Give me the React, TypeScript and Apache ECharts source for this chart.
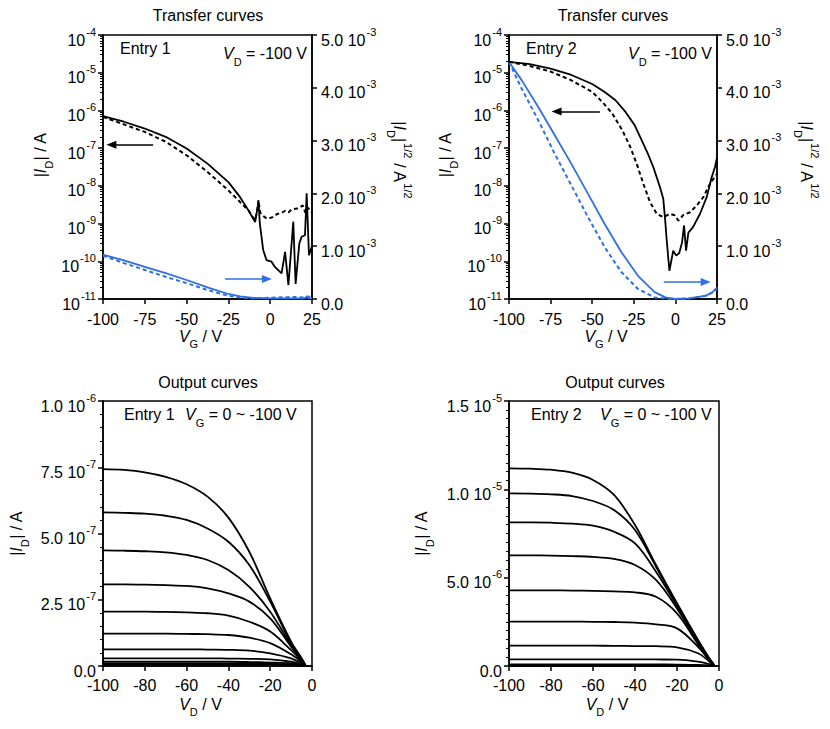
import React, { useEffect, useRef } from 'react';
import * as echarts from 'echarts';

const FF = '"Liberation Sans", Arial, Helvetica, sans-serif';
const BLACK = '#000000';
const BLUE = '#2f6fe4';

// ---------- Transfer curves, Entry 1 (V_D = -100 V) ----------
// black: log10(|I_D| / A), left axis
const t1FwdVg = [-100, -87.5, -75, -62.5, -50, -37.5, -25, -18, -13, -9, -7.5, -7, -6.2, -4.2, -2.2, 0.8, 2.8, 6.8, 8.9, 10.9, 13.8, 15.2, 17.4, 18.8, 20.8, 21.8, 23.2, 24.8];
const t1FwdLogId = [-6.15, -6.3, -6.48, -6.7, -7.01, -7.41, -7.9, -8.3, -8.65, -8.96, -8.55, -8.42, -9.0, -9.7, -9.97, -10.01, -10.15, -10.32, -9.75, -10.63, -8.95, -10.6, -9.53, -9.35, -9.31, -8.2, -9.84, -9.62];
const t1RevVg = [-100, -87.5, -75, -62.5, -50, -37.5, -25, -18, -13, -11, -9, -7.5, -7, -6, -5, -2, 1, 4, 7, 9, 11, 13, 16, 18, 19.5, 21, 22.5, 25];
const t1RevLogId = [-6.17, -6.37, -6.57, -6.83, -7.19, -7.63, -8.12, -8.43, -8.65, -8.8, -8.9, -8.6, -8.38, -8.7, -8.77, -8.87, -8.84, -8.75, -8.71, -8.66, -8.7, -8.62, -8.6, -8.56, -8.52, -8.71, -8.58, -8.71];
// blue: |I_D|^1/2 (A^1/2), right axis
const t1FwdSqrtVg = [-100, -87.5, -75, -62.5, -50, -37.5, -25, -18, -10, 0, 10, 20, 22, 23, 25];
const t1FwdSqrt = [0.84e-3, 0.73e-3, 0.61e-3, 0.49e-3, 0.36e-3, 0.22e-3, 0.095e-3, 0.05e-3, 0.02e-3, 0.01e-3, 0.012e-3, 0.01e-3, 0.04e-3, 0.015e-3, 0.01e-3];
const t1RevSqrtVg = [-100, -87.5, -75, -62.5, -50, -37.5, -25, -18, -10, 0, 5, 10, 15, 20, 22, 25];
const t1RevSqrt = [0.82e-3, 0.68e-3, 0.55e-3, 0.42e-3, 0.3e-3, 0.17e-3, 0.06e-3, 0.03e-3, 0.012e-3, 0.025e-3, 0.03e-3, 0.035e-3, 0.04e-3, 0.03e-3, 0.05e-3, 0.03e-3];

// ---------- Transfer curves, Entry 2 (V_D = -100 V) ----------
const t2FwdVg = [-100, -87.5, -75, -62.5, -50, -42.5, -36, -30, -24.5, -20.3, -16.5, -13.3, -9.3, -7.3, -6.3, -5.2, -3.6, -1.3, 0.5, 2.3, 4, 5.2, 6.4, 7.8, 10.5, 14.8, 18.8, 21.8, 23.8, 25];
const t2FwdLogId = [-4.71, -4.77, -4.89, -5.06, -5.3, -5.51, -5.73, -6.04, -6.39, -6.79, -7.15, -7.5, -8.03, -8.34, -8.83, -9.45, -10.25, -9.72, -9.85, -9.78, -9.5, -9.05, -9.72, -9.24, -9.1, -8.74, -8.3, -7.77, -7.5, -7.24];
const t2RevVg = [-100, -87.5, -75, -62.5, -50, -44, -38, -32, -27.3, -23.3, -19.3, -15.3, -11.2, -7.3, -3.2, -0.5, 1.8, 4.8, 8.8, 12.8, 16.8, 20.8, 25];
const t2RevLogId = [-4.71, -4.82, -4.97, -5.2, -5.51, -5.77, -6.08, -6.52, -6.95, -7.41, -7.94, -8.43, -8.74, -8.83, -8.74, -8.78, -8.92, -8.77, -8.7, -8.52, -8.3, -7.94, -7.68];
const t2FwdSqrtVg = [-100, -92.5, -82.5, -72.5, -62.5, -52.5, -42.5, -32.5, -22.5, -12.5, -6, 0, 8, 18, 22, 25];
const t2FwdSqrt = [4.49e-3, 4.15e-3, 3.64e-3, 3.1e-3, 2.56e-3, 1.99e-3, 1.42e-3, 0.89e-3, 0.44e-3, 0.13e-3, 0.03e-3, 0, 0.01e-3, 0.06e-3, 0.12e-3, 0.22e-3];
const t2RevSqrtVg = [-100, -92.5, -82.5, -72.5, -62.5, -52.5, -42.5, -32.5, -22.5, -12.5, -2.5, 8, 18, 22, 25];
const t2RevSqrt = [4.49e-3, 3.99e-3, 3.39e-3, 2.75e-3, 2.15e-3, 1.55e-3, 0.98e-3, 0.51e-3, 0.19e-3, 0.03e-3, 0, 0.01e-3, 0.06e-3, 0.12e-3, 0.19e-3];

// arrows [from, to] in data coordinates
const t1ArrowBlack = [[-70, -6.91], [-95, -6.91]];
const t1ArrowBlue = [[-27, 0.38e-3], [-2, 0.38e-3]];
const t2ArrowBlack = [[-45.4, -6.03], [-71.4, -6.03]];
const t2ArrowBlue = [[-7, 0.32e-3], [18.2, 0.32e-3]];

// ---------- Output curves, Entry 1 (|I_D| in 1e-7 A) ----------
const out1Vd = [-100, -90, -80, -70, -60, -50, -40, -30, -20, -10, -5, -3];
const out1Vg100 = [7.43, 7.4, 7.31, 7.14, 6.86, 6.39, 5.6, 4.31, 2.55, 0.92, 0.29, 0];
const out1Vg90 = [5.8, 5.78, 5.75, 5.67, 5.51, 5.19, 4.69, 3.81, 2.43, 0.86, 0.27, 0];
const out1Vg80 = [4.36, 4.35, 4.33, 4.29, 4.19, 4.0, 3.62, 2.99, 2.05, 0.79, 0.26, 0];
const out1Vg70 = [3.08, 3.08, 3.07, 3.05, 3.02, 2.93, 2.74, 2.43, 1.8, 0.73, 0.24, 0];
const out1Vg60 = [2.05, 2.05, 2.05, 2.04, 2.02, 1.99, 1.9, 1.67, 1.3, 0.6, 0.2, 0];
const out1Vg50 = [1.22, 1.22, 1.22, 1.22, 1.21, 1.2, 1.17, 1.07, 0.86, 0.44, 0.15, 0];
const out1Vg40 = [0.63, 0.63, 0.63, 0.63, 0.63, 0.62, 0.61, 0.58, 0.48, 0.29, 0.1, 0];
const out1Vg30 = [0.29, 0.29, 0.29, 0.29, 0.29, 0.29, 0.28, 0.27, 0.25, 0.16, 0.06, 0];
const out1Vg20 = [0.16, 0.16, 0.16, 0.16, 0.16, 0.16, 0.16, 0.15, 0.13, 0.1, 0.04, 0];
const out1Vg10 = [0.09, 0.09, 0.09, 0.09, 0.09, 0.09, 0.09, 0.09, 0.08, 0.06, 0.03, 0];
const out1Vg0 = [0.04, 0.04, 0.04, 0.04, 0.04, 0.04, 0.04, 0.04, 0.04, 0.03, 0.01, 0];

// ---------- Output curves, Entry 2 (|I_D| in 1e-6 A) ----------
const out2Vd = [-100, -90, -80, -70, -60, -50, -40, -30, -20, -10, -5, -2];
const out2Vg100 = [11.19, 11.17, 11.11, 10.94, 10.53, 9.68, 7.98, 5.72, 3.55, 1.47, 0.5, 0];
const out2Vg90 = [9.77, 9.76, 9.72, 9.62, 9.34, 8.83, 7.7, 5.62, 3.49, 1.45, 0.5, 0];
const out2Vg80 = [8.13, 8.13, 8.11, 8.06, 7.94, 7.6, 6.94, 5.34, 3.4, 1.38, 0.47, 0];
const out2Vg70 = [6.26, 6.26, 6.25, 6.22, 6.18, 6.06, 5.72, 4.87, 3.26, 1.32, 0.45, 0];
const out2Vg60 = [4.28, 4.28, 4.28, 4.27, 4.25, 4.22, 4.17, 3.92, 2.98, 1.23, 0.42, 0];
const out2Vg50 = [2.51, 2.51, 2.51, 2.51, 2.5, 2.49, 2.46, 2.36, 2.13, 1.09, 0.38, 0];
const out2Vg40 = [1.15, 1.15, 1.15, 1.15, 1.15, 1.14, 1.13, 1.12, 1.06, 0.72, 0.3, 0];
const out2Vg30 = [0.38, 0.38, 0.38, 0.38, 0.38, 0.38, 0.38, 0.37, 0.36, 0.25, 0.12, 0];
const out2Vg20 = [0.09, 0.09, 0.09, 0.09, 0.09, 0.09, 0.09, 0.09, 0.08, 0.06, 0.03, 0];
const out2Vg10 = [0.02, 0.02, 0.02, 0.02, 0.02, 0.02, 0.02, 0.02, 0.02, 0.02, 0.01, 0];
const out2Vg0 = [0.005, 0.005, 0.005, 0.005, 0.005, 0.005, 0.005, 0.005, 0.005, 0.005, 0.003, 0];

const out1Curves = [out1Vg0, out1Vg10, out1Vg20, out1Vg30, out1Vg40, out1Vg50, out1Vg60, out1Vg70, out1Vg80, out1Vg90, out1Vg100];
const out2Curves = [out2Vg0, out2Vg10, out2Vg20, out2Vg30, out2Vg40, out2Vg50, out2Vg60, out2Vg70, out2Vg80, out2Vg90, out2Vg100];

// minor ticks for the log axes (log10 of k * 10^n)
const logMinorTicks: number[] = [];
for (let n = -11; n < -4; n++) for (let k = 2; k <= 9; k++) logMinorTicks.push(n + Math.log10(k));

const zip = (xs: number[], ys: number[], k = 1) => xs.map((x, i) => [x, ys[i] * k]);

const base = { fontFamily: FF, fontSize: 16, color: BLACK, lineHeight: 18, verticalAlign: 'top', padding: [6, 0, 6, 0] };
const RICH: any = {
  t: base,
  it: { ...base, fontStyle: 'italic' },
  sub: { fontFamily: FF, fontSize: 11, color: BLACK, lineHeight: 11, verticalAlign: 'top', padding: [17, 0, 0, 0] },
  sup: { fontFamily: FF, fontSize: 11, color: BLACK, lineHeight: 11, verticalAlign: 'top', padding: [0, 0, 0, 1] },
};
// compact rich set for x-axis names (no superscripts)
const baseN = { fontFamily: FF, fontSize: 16, color: BLACK, lineHeight: 16, verticalAlign: 'top' };
const RICH_N: any = {
  t: baseN,
  it: { ...baseN, fontStyle: 'italic' },
  sub: { fontFamily: FF, fontSize: 11, color: BLACK, lineHeight: 11, verticalAlign: 'top', padding: [10, 0, 0, 0] },
};

const axisLine = { show: true, onZero: false, lineStyle: { color: BLACK, width: 1.5 } };
const tick = { show: true, inside: false, length: 5, lineStyle: { color: BLACK, width: 1.5 } };

const sciLabel = (v: number) => {
  if (Math.abs(v) < 1e-15) return '{t|0.0}';
  const e = Math.floor(Math.log10(v) + 1e-9);
  const m = v / Math.pow(10, e);
  return `{t|${m.toFixed(1)} 10}{sup|${e}}`;
};

function xAxis(gridIndex: number, min: number, max: number, interval: number, name: string, margin: number, gap: number) {
  return {
    type: 'value', gridIndex, position: 'bottom', min, max, interval,
    axisLine, axisTick: tick, splitLine: { show: false },
    axisLabel: { color: BLACK, fontFamily: FF, fontSize: 16, lineHeight: 12, margin },
    name, nameLocation: 'middle', nameGap: gap, nameMoveOverlap: false,
    nameTextStyle: { rich: RICH_N, padding: [0, 14, 0, 0] },
  };
}

function logAxis(gridIndex: number, gap: number) {
  return {
    type: 'value', gridIndex, position: 'left', min: -11, max: -4, interval: 1,
    axisLine, axisTick: tick, splitLine: { show: false },
    axisLabel: { margin: 7, rich: RICH, formatter: (v: number) => `{t|10}{sup|${Math.round(v)}}` },
    name: '{t||}{it|I}{sub|D}{t|| / A}', nameLocation: 'middle', nameRotate: 90, nameGap: gap, nameMoveOverlap: false,
    nameTextStyle: { rich: RICH, padding: [0, 0, 0, 24] },
  };
}

function minorLogAxis(gridIndex: number) {
  return {
    type: 'value', gridIndex, position: 'left', min: -11, max: -4,
    axisLine: { show: false, onZero: false }, splitLine: { show: false }, axisLabel: { show: false },
    axisTick: { show: true, inside: false, length: 3, customValues: logMinorTicks, lineStyle: { color: BLACK, width: 1 } },
  };
}

function sqrtAxis(gridIndex: number, gap: number) {
  return {
    type: 'value', gridIndex, position: 'right', min: 0, max: 5e-3, interval: 1e-3,
    axisLine, axisTick: tick, splitLine: { show: false },
    axisLabel: { margin: 9, rich: RICH, formatter: (v: number) => (v < 1e-9 ? '{t|0.0}' : `{t|${(v * 1e3).toFixed(1)} 10}{sup|-3}`) },
    name: '{t||}{it|I}{sub|D}{t||}{sup|1/2}{t| / A}{sup|1/2}', nameLocation: 'middle', nameRotate: -90, nameGap: gap, nameMoveOverlap: false,
    nameTextStyle: { rich: RICH, padding: [0, 14, 0, 0] },
  };
}

function linAxis(gridIndex: number, max: number, interval: number, minorSplit: number, gap: number) {
  return {
    type: 'value', gridIndex, position: 'left', min: 0, max, interval,
    axisLine, axisTick: tick, splitLine: { show: false }, minorSplitLine: { show: false },
    minorTick: { show: true, splitNumber: minorSplit, length: 3, lineStyle: { color: BLACK, width: 1 } },
    axisLabel: { margin: 7, rich: RICH, formatter: sciLabel },
    name: '{t||}{it|I}{sub|D}{t|| / A}', nameLocation: 'middle', nameRotate: 90, nameGap: gap, nameMoveOverlap: false,
    nameTextStyle: { rich: RICH },
  };
}

function line(data: number[][], xi: number, yi: number, color: string, dashed: boolean, smooth: number | boolean, markLine?: any) {
  const s: any = {
    type: 'line', data, xAxisIndex: xi, yAxisIndex: yi, showSymbol: false, symbol: 'none', silent: true, smooth,
    lineStyle: { color, width: dashed ? 2 : 1.8, type: dashed ? [4, 3] : 'solid' },
    itemStyle: { color }, emphasis: { disabled: true },
  };
  if (markLine) s.markLine = markLine;
  return s;
}

function arrow(pts: number[][], color: string) {
  return {
    silent: true, symbol: ['none', 'triangle'], symbolSize: [8, 10], label: { show: false },
    lineStyle: { color, width: 1.5, type: 'solid' }, emphasis: { disabled: true },
    data: [[{ coord: pts[0] }, { coord: pts[1] }]],
  };
}

const gridBase = { show: true, borderColor: BLACK, borderWidth: 1.5, backgroundColor: 'transparent', containLabel: false };

function text(x: number, y: number, t: string, align = 'left') {
  return { type: 'text', x, y, silent: true, style: { text: t, rich: RICH, align } };
}

export default function App() {
  const ref = useRef<HTMLDivElement>(null);
  useEffect(() => {
    if (!ref.current) return;
    const chart = echarts.init(ref.current, null, { renderer: 'svg' });
    const series: any[] = [
      line(zip(t1FwdSqrtVg, t1FwdSqrt), 0, 1, BLUE, false, false, arrow(t1ArrowBlue, BLUE)),
      line(zip(t1RevSqrtVg, t1RevSqrt), 0, 1, BLUE, true, false),
      line(zip(t1FwdVg, t1FwdLogId), 0, 0, BLACK, false, false, arrow(t1ArrowBlack, BLACK)),
      line(zip(t1RevVg, t1RevLogId), 0, 0, BLACK, true, false),
      line(zip(t2FwdSqrtVg, t2FwdSqrt), 1, 3, BLUE, false, false, arrow(t2ArrowBlue, BLUE)),
      line(zip(t2RevSqrtVg, t2RevSqrt), 1, 3, BLUE, true, false),
      line(zip(t2FwdVg, t2FwdLogId), 1, 2, BLACK, false, false, arrow(t2ArrowBlack, BLACK)),
      line(zip(t2RevVg, t2RevLogId), 1, 2, BLACK, true, false),
      ...out1Curves.map((c) => line(zip(out1Vd, c, 1e-7), 2, 4, BLACK, false, 0.35)),
      ...out2Curves.map((c) => line(zip(out2Vd, c, 1e-6), 3, 5, BLACK, false, 0.35)),
    ];
    chart.setOption({
      animation: false,
      backgroundColor: '#ffffff',
      textStyle: { fontFamily: FF },
      grid: [
        { ...gridBase, left: 103, top: 35, width: 209, height: 264 },
        { ...gridBase, left: 509, top: 35, width: 208, height: 264 },
        { ...gridBase, left: 103, top: 401, width: 209, height: 265 },
        { ...gridBase, left: 509, top: 401, width: 210, height: 265 },
      ],
      xAxis: [
        xAxis(0, -100, 25, 25, '{it|V}{sub|G}{t| / V}', 14, 29),
        xAxis(1, -100, 25, 25, '{it|V}{sub|G}{t| / V}', 14, 29),
        xAxis(2, -100, 0, 20, '{it|V}{sub|D}{t| / V}', 13, 30),
        xAxis(3, -100, 0, 20, '{it|V}{sub|D}{t| / V}', 13, 30),
      ],
      yAxis: [
        logAxis(0, 59),
        sqrtAxis(0, 83),
        logAxis(1, 60),
        sqrtAxis(1, 85),
        linAxis(2, 1e-6, 2.5e-7, 5, 83),
        linAxis(3, 1.5e-5, 5e-6, 10, 84),
        minorLogAxis(0),
        minorLogAxis(1),
      ],
      series,
      graphic: [
        text(208, 1, '{t|Transfer curves}', 'center'),
        text(613, 1, '{t|Transfer curves}', 'center'),
        text(208, 368, '{t|Output curves}', 'center'),
        text(615, 368, '{t|Output curves}', 'center'),
        text(120, 34, '{t|Entry 1}'),
        text(223, 39, '{it|V}{sub|D}{t| = -100 V}'),
        text(526, 34, '{t|Entry 2}'),
        text(628, 39, '{it|V}{sub|D}{t| = -100 V}'),
        text(124, 400, '{t|Entry 1}'),
        text(185, 400, '{it|V}{sub|G}{t| = 0 ~ -100 V}'),
        text(531, 400, '{t|Entry 2}'),
        text(600, 400, '{it|V}{sub|G}{t| = 0 ~ -100 V}'),
      ],
    });
    return () => chart.dispose();
  }, []);
  return <div ref={ref} style={{ position: 'absolute', left: 0, top: 0, width: 830, height: 729 }} />;
}
